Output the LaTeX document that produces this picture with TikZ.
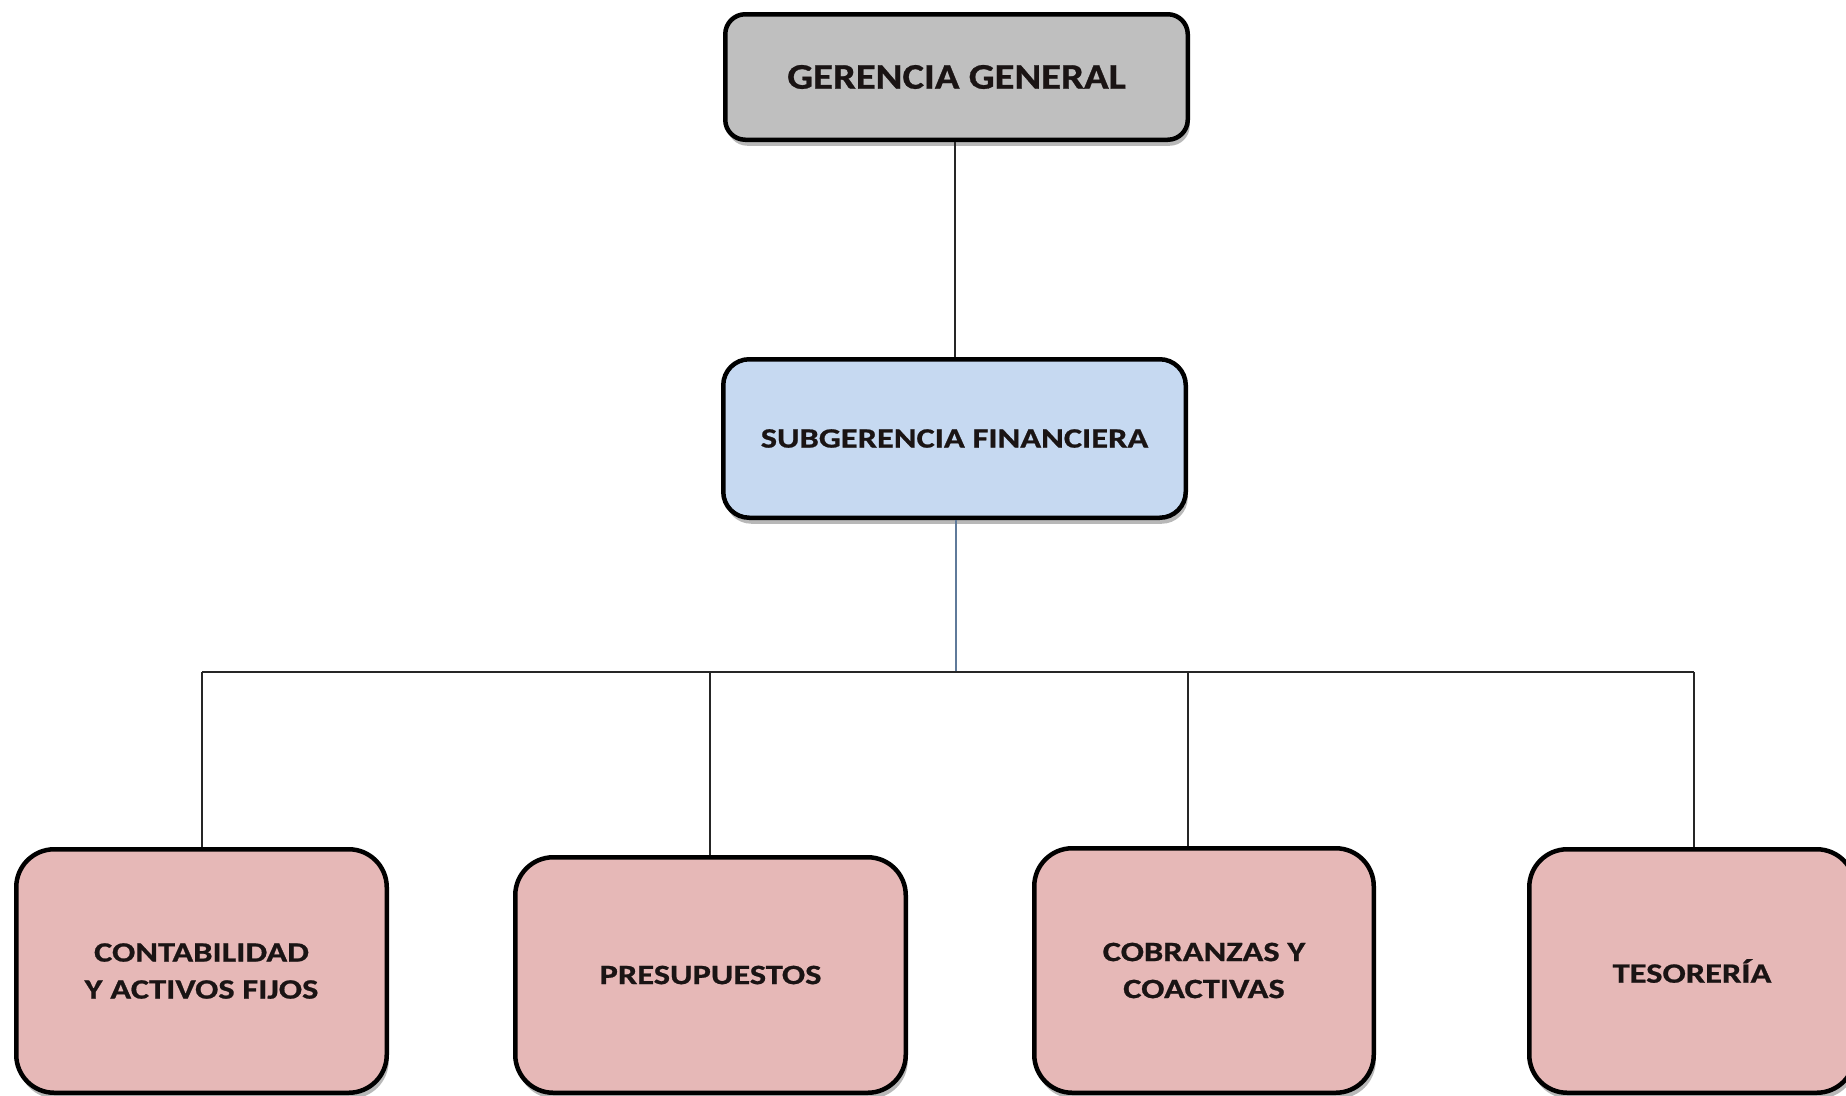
\documentclass[tikz,border=0pt]{standalone}
\usepackage{fontspec}
\setmainfont{Carlito}
\newfontfamily\widefont[FakeStretch=1.23,FakeBold=0.8]{Carlito}
\newfontfamily\widerfont[FakeStretch=1.13,FakeBold=0.8]{Carlito}
\usetikzlibrary{shadows}
\definecolor{ggray}{HTML}{BFBFBF}
\definecolor{sblue}{HTML}{C6D9F1}
\definecolor{pinkbox}{HTML}{E6B8B7}
\definecolor{blueline}{HTML}{5F7A9A}
\definecolor{txt}{HTML}{1A1414}
\begin{document}
\begin{tikzpicture}[x=1pt,y=-1pt,
  orgbox/.style={draw=black, line width=4.5pt, rounded corners=#1, inner sep=0pt,
    align=center, text=txt,
    drop shadow={shadow xshift=2pt, shadow yshift=-6pt, opacity=0.28, fill=black}},
  bigtext/.style={font=\widerfont\fontsize{36}{42}\selectfont\bfseries},
  midtext/.style={font=\widefont\fontsize{28}{37}\selectfont\bfseries},
  conn/.style={draw=black!85, line width=1.8pt},
  connb/.style={draw=blueline, line width=1.8pt}]
\useasboundingbox (0,0) rectangle (1846,1095);
\fill[white] (0,0) rectangle (1846,1095);

\node[orgbox=20pt, fill=ggray, minimum width=462.5pt, minimum height=125.5pt, bigtext]
  (gg) at (956.5,77) {GERENCIA GENERAL};
\node[orgbox=26pt, fill=sblue, minimum width=462.5pt, minimum height=158.5pt, midtext]
  (sf) at (954.5,438.5) {SUBGERENCIA FINANCIERA};

\node[orgbox=38pt, fill=pinkbox, minimum width=370.5pt, minimum height=243.5pt, midtext]
  (b1) at (201.5,971) {CONTABILIDAD\\Y ACTIVOS FIJOS};
\node[orgbox=38pt, fill=pinkbox, minimum width=390.5pt, minimum height=235.5pt, midtext]
  (b2) at (710.5,975) {PRESUPUESTOS};
\node[orgbox=38pt, fill=pinkbox, minimum width=339.5pt, minimum height=244.5pt, midtext]
  (b3) at (1204,970.5) {COBRANZAS Y\\COACTIVAS};
\node[orgbox=38pt, fill=pinkbox, minimum width=325.5pt, minimum height=243.5pt, midtext]
  (b4) at (1692,971) {TESORERÍA};

\coordinate (bus) at (956,672);
\coordinate (d1) at (202,672);
\coordinate (d2) at (710,672);
\coordinate (d3) at (1188,672);
\coordinate (d4) at (1694,672);

\draw[conn] (gg.south -| 955,0) -- (sf.north -| 955,0);
\draw[connb] (sf.south -| bus) -- (bus);
\draw[conn] (d1) -- (d4);
\draw[conn] (d1) -- (d1 |- b1.north);
\draw[conn] (d2) -- (d2 |- b2.north);
\draw[conn] (d3) -- (d3 |- b3.north);
\draw[conn] (d4) -- (d4 |- b4.north);
\end{tikzpicture}
\end{document}
